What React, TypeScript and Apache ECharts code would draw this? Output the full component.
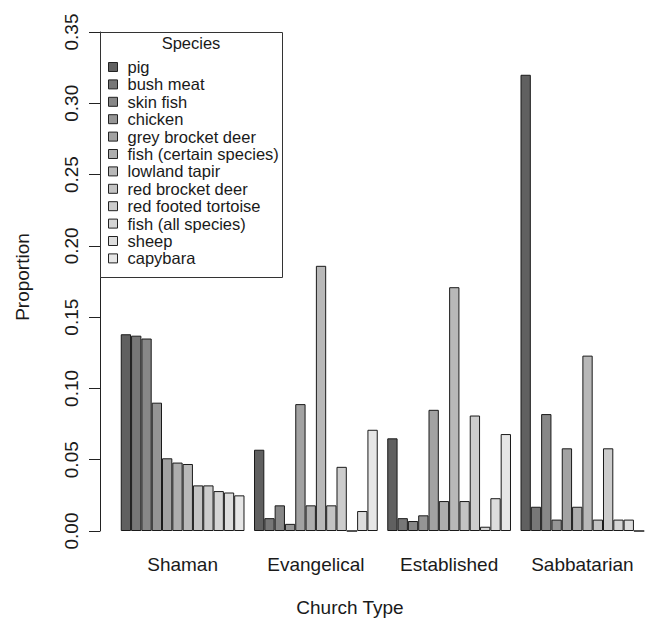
import React, { useEffect, useRef } from "react";
import * as echarts from "echarts";

const churchTypes = ["Shaman", "Evangelical", "Established", "Sabbatarian"];
const species = [
  "pig",
  "bush meat",
  "skin fish",
  "chicken",
  "grey brocket deer",
  "fish (certain species)",
  "lowland tapir",
  "red brocket deer",
  "red footed tortoise",
  "fish (all species)",
  "sheep",
  "capybara",
];
const pig = [0.138, 0.057, 0.065, 0.32];
const bushMeat = [0.137, 0.009, 0.009, 0.017];
const skinFish = [0.135, 0.018, 0.007, 0.082];
const chicken = [0.09, 0.005, 0.011, 0.008];
const greyBrocketDeer = [0.051, 0.089, 0.085, 0.058];
const fishCertain = [0.048, 0.018, 0.021, 0.017];
const lowlandTapir = [0.047, 0.186, 0.171, 0.123];
const redBrocketDeer = [0.032, 0.018, 0.021, 0.008];
const redFootedTortoise = [0.032, 0.045, 0.081, 0.058];
const fishAll = [0.028, 0, 0.003, 0.008];
const sheep = [0.027, 0.014, 0.023, 0.008];
const capybara = [0.025, 0.071, 0.068, 0];
const seriesValues = [
  pig, bushMeat, skinFish, chicken, greyBrocketDeer, fishCertain,
  lowlandTapir, redBrocketDeer, redFootedTortoise, fishAll, sheep, capybara,
];
const greys = [
  "#606060", "#777777", "#878787", "#959595", "#a2a2a2", "#adadad",
  "#b8b8b8", "#c3c3c3", "#cccccc", "#d5d5d5", "#dddddd", "#e6e6e6",
];
const yTicks = [0, 0.05, 0.1, 0.15, 0.2, 0.25, 0.3, 0.35];

const FONT = "'Liberation Sans', Arial, Helvetica, sans-serif";
const FS = 16.5;
const AFS = 19;
const INK = "#1a1a1a";

export default function App() {
  const ref = useRef<HTMLDivElement>(null);
  useEffect(() => {
    if (!ref.current) return;
    const chart = echarts.init(ref.current, null, { renderer: "svg" });
    const option: any = {
      animation: false,
      backgroundColor: "#ffffff",
      textStyle: { fontFamily: FONT },
      grid: { left: 116, top: 32, width: 536, height: 499 },
      xAxis: {
        type: "category",
        data: churchTypes,
        axisLine: { show: false },
        axisTick: { show: false },
        axisLabel: { color: INK, fontSize: AFS, margin: 24, fontFamily: FONT },
      },
      yAxis: {
        type: "value",
        min: yTicks[0],
        max: yTicks[yTicks.length - 1],
        interval: 0.05,
        offset: 16,
        axisLine: { show: true, lineStyle: { color: "#222", width: 1 } },
        axisTick: { show: true, length: 11, lineStyle: { color: "#222", width: 1 } },
        splitLine: { show: false },
        axisLabel: {
          color: INK,
          fontSize: AFS,
          rotate: 90,
          margin: 19,
          fontFamily: FONT,
          formatter: (v: number) => v.toFixed(2),
        },
      },
      legend: {
        data: species,
        orient: "vertical",
        left: 108,
        top: 58.5,
        padding: 0,
        itemWidth: 9,
        itemHeight: 9,
        itemGap: 0.4,
        icon: "rect",
        selectedMode: false,
        itemStyle: { borderColor: "#222", borderWidth: 1 },
        textStyle: {
          color: INK,
          fontSize: FS,
          lineHeight: FS,
          fontFamily: FONT,
          padding: [0, 0, 0, 5],
        },
      },
      graphic: [
        {
          type: "rect",
          shape: { x: 100.5, y: 32.5, width: 182, height: 245 },
          style: { fill: "#ffffff", stroke: "#333", lineWidth: 1 },
          z: 1,
        },
        {
          type: "text",
          x: 191,
          y: 43,
          style: {
            text: "Species",
            fill: INK,
            font: `${FS}px ${FONT}`,
            textAlign: "center",
            textVerticalAlign: "middle",
          },
          z: 2,
        },
        {
          type: "text",
          x: 350,
          y: 607,
          style: {
            text: "Church Type",
            fill: INK,
            font: `${AFS}px ${FONT}`,
            textAlign: "center",
            textVerticalAlign: "middle",
          },
          z: 2,
        },
        {
          type: "text",
          x: 22,
          y: 277,
          rotation: Math.PI / 2,
          style: {
            text: "Proportion",
            fill: INK,
            font: `${AFS}px ${FONT}`,
            textAlign: "center",
            textVerticalAlign: "middle",
          },
          z: 2,
        },
      ],
      series: species.map((name, i) => ({
        name,
        type: "bar",
        data: seriesValues[i],
        barWidth: 10.31,
        barGap: "0%",
        itemStyle: { color: greys[i], borderColor: INK, borderWidth: 1 },
        emphasis: { disabled: true },
      })),
    };
    chart.setOption(option);
    return () => chart.dispose();
  }, []);
  return (
    <div
      ref={ref}
      style={{ position: "absolute", left: 0, top: 0, width: 649, height: 623 }}
    />
  );
}
